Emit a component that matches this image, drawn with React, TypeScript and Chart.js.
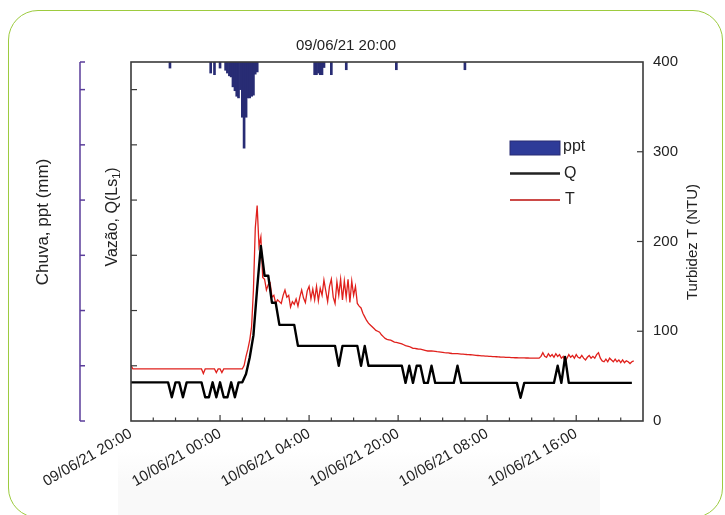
import React, { useEffect, useRef } from "react";
import { Chart, registerables } from "chart.js";

Chart.register(...registerables);

const FONT = '"Liberation Sans", Arial, Helvetica, sans-serif';
const TEXT = "#222222";

// Sampling steps (hours): Q every 10 min, T every 5 min
const Q_STEP_HOURS = 1 / 6;
const T_STEP_HOURS = 1 / 12;

// Vazão Q (arbitrary units of the unlabeled left axis)
const qValues = [
  7, 7, 7, 7, 7, 7, 7, 7, 7, 7,
  7, 4.3, 7, 7, 4.3, 7, 7, 7, 7, 7,
  4.3, 4.3, 7, 4.3, 7, 4.3, 4.3, 7, 4.3, 7,
  7, 8.5, 11.5, 15.5, 24, 31.7, 26.3, 26.3, 21.4, 21.4,
  17.4, 17.4, 17.4, 17.4, 17.4, 13.6, 13.6, 13.6, 13.6, 13.6,
  13.6, 13.6, 13.6, 13.6, 13.6, 13.6, 10, 13.6, 13.6, 13.6,
  13.6, 13.6, 10, 13.6, 10, 10, 10, 10, 10, 10,
  10, 10, 10, 10, 6.9, 10, 6.9, 10, 10, 6.9,
  6.9, 10, 6.9, 6.9, 6.9, 6.9, 6.9, 6.9, 10, 6.9,
  6.9, 6.9, 6.9, 6.9, 6.9, 6.9, 6.9, 6.9, 6.9, 6.9,
  6.9, 6.9, 6.9, 6.9, 6.9, 4.2, 6.9, 6.9, 6.9, 6.9,
  6.9, 6.9, 6.9, 6.9, 6.9, 10, 6.9, 11.6, 6.9, 6.9,
  6.9, 6.9, 6.9, 6.9, 6.9, 6.9, 6.9, 6.9, 6.9, 6.9,
  6.9, 6.9, 6.9, 6.9, 6.9, 6.9,
];

// Turbidez T (NTU)
const tValues = [
  62, 58, 58, 58, 58, 58, 58, 58, 58, 58,
  58, 58, 58, 58, 58, 58, 58, 58, 58, 58,
  58, 58, 58, 58, 58, 58, 58, 58, 58, 58,
  58, 58, 58, 58, 58, 58, 58, 58, 58, 53,
  58, 58, 58, 58, 58, 58, 54, 58, 58, 54,
  58, 58, 58, 58, 58, 58, 58, 58, 58, 58,
  58, 62, 72, 80, 90, 105, 146, 215, 240, 195,
  205, 160, 158, 146, 152, 154, 138, 140, 131, 135,
  133, 131, 140, 146, 138, 140, 127, 133, 130, 136,
  128, 138, 146, 137, 132, 145, 150, 136, 147, 135,
  150, 134, 148, 140, 157, 145, 133, 150, 158, 138,
  131, 155, 140, 158, 135, 156, 138, 158, 132, 156,
  140, 150, 131, 128, 126, 120, 116, 112, 109, 107,
  105, 103, 101, 100, 99, 96, 94, 92, 91, 90.5,
  90, 89, 88, 87.5, 87, 86.5, 86, 85, 84, 83.5,
  83, 82, 81, 81, 80.5, 80, 80, 79.5, 79, 78.5,
  78, 78, 78, 77.8, 77.5, 77.2, 77, 76.8, 76.5, 76.2,
  76, 75.8, 75.5, 75.2, 75, 75, 75, 74.8, 74.6, 74.5,
  74.3, 74.1, 74, 73.8, 73.6, 73.4, 73.2, 73, 72.8, 72.6,
  72.5, 72.3, 72.2, 72.1, 72, 71.8, 71.7, 71.6, 71.5, 71.3,
  71.2, 71.1, 71, 70.9, 70.8, 70.7, 70.6, 70.5, 70.5, 70.4,
  70.4, 70.3, 70.3, 70.2, 70.2, 70.1, 70.1, 70, 70, 70,
  70, 72, 76, 72, 71, 75, 72, 74, 71, 75,
  72, 74, 70, 72, 66, 70, 74, 71, 73, 70,
  74, 71, 70, 73, 70, 68, 71, 73, 70, 72,
  70, 74, 76, 70, 67, 66, 69, 66, 70, 68,
  66, 69, 66, 68, 65, 68, 65, 67, 66, 64,
  66, 67,
];

// Chuva ppt (mm): time of each reading (hours from start) and amount
const rainHours = [
  1.75, 3.58, 3.75, 4.0,
  4.25, 4.33, 4.42, 4.5, 4.58, 4.67, 4.75, 4.83, 4.92, 5.0, 5.08, 5.17, 5.25, 5.33, 5.42, 5.5, 5.58, 5.67,
  8.25, 8.33, 8.42, 8.5, 8.58, 8.67, 9.0, 9.67, 11.92, 15.0,
];
const rainMm = [
  0.11, 0.2, 0.23, 0.11,
  0.15, 0.2, 0.25, 0.27, 0.45, 0.52, 0.62, 0.65, 0.5, 1.0, 1.56, 1.0, 0.65, 0.65, 0.62, 0.6, 0.22, 0.18,
  0.23, 0.23, 0.2, 0.23, 0.23, 0.1, 0.23, 0.14, 0.14, 0.14,
];

// X axis ticks
const xTickHours = [0, 4, 8, 12, 16, 20];
const xTickLabels = [
  "09/06/21 20:00",
  "10/06/21 00:00",
  "10/06/21 04:00",
  "10/06/21 20:00",
  "10/06/21 08:00",
  "10/06/21 16:00",
];
const xMinorStepHours = 1;
const xMaxHours = 23;

// Y axes ticks
const tTicks = [0, 100, 200, 300, 400];
const qTicks = [0, 10, 20, 30, 40, 50, 60];
const rainTicks = [0, 0.5, 1.5, 2.5, 3.5, 4.5, 5.5, 6.5];

const topLabel = "09/06/21 20:00";

const COLORS = {
  rain: "#282c74",
  rainLegend: "#2e3b98",
  q: "#000000",
  t: "#e0201c",
  frame: "#3a3a3a",
  purple: "#5a3d9a",
};

const decorPlugin = {
  id: "decor",
  afterDraw(chart: any) {
    const ctx = chart.ctx;
    const ca = chart.chartArea;
    const x = chart.scales.x;
    const yT = chart.scales.yT;
    const yQ = chart.scales.yQ;
    const yR = chart.scales.yRain;
    ctx.save();

    // frame
    ctx.strokeStyle = COLORS.frame;
    ctx.lineWidth = 1.6;
    ctx.strokeRect(ca.left, ca.top, ca.right - ca.left, ca.bottom - ca.top);

    // x ticks (inward)
    ctx.lineWidth = 1.2;
    for (let h = xMinorStepHours; h < xMaxHours; h += xMinorStepHours) {
      const px = x.getPixelForValue(h);
      const len = xTickHours.includes(h) ? 6 : 3.5;
      ctx.beginPath();
      ctx.moveTo(px, ca.bottom);
      ctx.lineTo(px, ca.bottom - len);
      ctx.stroke();
    }
    // Q ticks (inward from left)
    qTicks.forEach((v) => {
      if (v === 0) return;
      const py = yQ.getPixelForValue(v);
      ctx.beginPath();
      ctx.moveTo(ca.left, py);
      ctx.lineTo(ca.left + 6, py);
      ctx.stroke();
    });
    // T ticks (inward from right)
    tTicks.forEach((v) => {
      if (v === 0 || v === 400) return;
      const py = yT.getPixelForValue(v);
      ctx.beginPath();
      ctx.moveTo(ca.right, py);
      ctx.lineTo(ca.right - 6, py);
      ctx.stroke();
    });

    // rain axis (purple)
    const ax = ca.left - 51;
    ctx.strokeStyle = COLORS.purple;
    ctx.lineWidth = 1.5;
    ctx.beginPath();
    ctx.moveTo(ax, yR.getPixelForValue(0));
    ctx.lineTo(ax, yR.getPixelForValue(6.5));
    ctx.stroke();
    rainTicks.forEach((v) => {
      const py = yR.getPixelForValue(v);
      ctx.beginPath();
      ctx.moveTo(ax, py);
      ctx.lineTo(ax + 5, py);
      ctx.stroke();
    });

    // texts
    ctx.fillStyle = TEXT;
    ctx.font = `15px ${FONT}`;
    ctx.textAlign = "center";
    ctx.textBaseline = "middle";
    ctx.fillText(topLabel, ca.left + 0.42 * (ca.right - ca.left), ca.top - 16);

    const vText = (t: string, cx: number, cy: number, size: number) => {
      ctx.save();
      ctx.translate(cx, cy);
      ctx.rotate(-Math.PI / 2);
      ctx.font = `${size}px ${FONT}`;
      ctx.textAlign = "center";
      ctx.textBaseline = "middle";
      ctx.fillText(t, 0, 0);
      ctx.restore();
    };
    vText("Chuva, ppt (mm)", ca.left - 88, ca.top + 160, 17);
    vText("Turbidez T (NTU)", ca.right + 50, ca.top + 180, 15);

    // Vazão label with subscript
    {
      ctx.save();
      ctx.translate(ca.left - 18, ca.top + 155);
      ctx.rotate(-Math.PI / 2);
      ctx.textBaseline = "middle";
      ctx.textAlign = "left";
      const a = "Vazão, Q(Ls";
      const b = "1";
      const c = ")";
      ctx.font = `16px ${FONT}`;
      const wa = ctx.measureText(a).width;
      const wc = ctx.measureText(c).width;
      ctx.font = `11px ${FONT}`;
      const wb = ctx.measureText(b).width;
      const total = wa + wb + wc;
      let sx = -total / 2;
      ctx.font = `16px ${FONT}`;
      ctx.fillText(a, sx, 0);
      sx += wa;
      ctx.font = `11px ${FONT}`;
      ctx.fillText(b, sx, 4);
      sx += wb;
      ctx.font = `16px ${FONT}`;
      ctx.fillText(c, sx, 0);
      ctx.restore();
    }

    // legend
    const lx = ca.left + 379;
    const rows = [ca.top + 86, ca.top + 111.5, ca.top + 138];
    const ds = chart.data.datasets;
    ctx.fillStyle = COLORS.rainLegend;
    ctx.fillRect(lx, rows[0] - 7, 50, 14);
    ctx.strokeStyle = COLORS.rain;
    ctx.lineWidth = 1;
    ctx.strokeRect(lx, rows[0] - 7, 50, 14);
    ctx.strokeStyle = "#222";
    ctx.lineWidth = 2.5;
    ctx.beginPath();
    ctx.moveTo(lx, rows[1]);
    ctx.lineTo(lx + 50, rows[1]);
    ctx.stroke();
    ctx.strokeStyle = "#cc4a47";
    ctx.lineWidth = 2;
    ctx.beginPath();
    ctx.moveTo(lx, rows[2]);
    ctx.lineTo(lx + 50, rows[2]);
    ctx.stroke();
    ctx.fillStyle = TEXT;
    ctx.font = `16px ${FONT}`;
    ctx.textAlign = "left";
    ctx.textBaseline = "middle";
    ctx.fillText(ds[0].label, lx + 53, rows[0] - 1);
    ctx.fillText(ds[1].label, lx + 54, rows[1]);
    ctx.fillText(ds[2].label, lx + 55, rows[2]);

    ctx.restore();
  },
};

export default function App() {
  const ref = useRef<HTMLCanvasElement>(null);

  useEffect(() => {
    const chart = new Chart(ref.current as HTMLCanvasElement, {
      type: "line",
      data: {
        datasets: [
          {
            type: "bar",
            label: "ppt",
            data: rainHours.map((h, i) => ({ x: h, y: rainMm[i] })),
            backgroundColor: COLORS.rain,
            borderWidth: 0,
            barThickness: 2,
            yAxisID: "yRain",
            order: 3,
          } as any,
          {
            type: "line",
            label: "Q",
            data: qValues.map((v, i) => ({ x: i * Q_STEP_HOURS, y: v })),
            borderColor: COLORS.q,
            borderWidth: 2.4,
            pointRadius: 0,
            tension: 0,
            borderJoinStyle: "round",
            yAxisID: "yQ",
            order: 1,
          },
          {
            type: "line",
            label: "T",
            data: tValues.map((v, i) => ({ x: i * T_STEP_HOURS, y: v })),
            borderColor: COLORS.t,
            borderWidth: 1.3,
            pointRadius: 0,
            tension: 0,
            yAxisID: "yT",
            order: 2,
          },
        ],
      },
      options: {
        responsive: false,
        animation: false,
        events: [],
        layout: { padding: { left: 131, top: 62, right: 0, bottom: 0 } },
        plugins: {
          legend: { display: false },
          title: { display: false },
          tooltip: { enabled: false },
        },
        scales: {
          x: {
            type: "linear",
            position: "bottom",
            min: 0,
            max: xMaxHours,
            offset: false,
            grid: { display: false, drawTicks: false },
            border: { display: false },
            ticks: {
              autoSkip: false,
              maxRotation: 30,
              minRotation: 30,
              padding: 4,
              color: TEXT,
              font: { family: FONT, size: 15 },
              callback: (v: any) => {
                const k = xTickHours.indexOf(Number(v));
                return k >= 0 ? xTickLabels[k] : "";
              },
            },
            afterBuildTicks: (s: any) => {
              s.ticks = xTickHours.map((v) => ({ value: v }));
            },
            afterFit: (s: any) => {
              s.height = 94;
              s.paddingLeft = 0;
              s.paddingRight = 0;
            },
          },
          yT: {
            position: "right",
            min: 0,
            max: 400,
            grid: { display: false, drawTicks: false },
            border: { display: false },
            ticks: {
              padding: 10,
              color: TEXT,
              font: { family: FONT, size: 15 },
            },
            afterBuildTicks: (s: any) => {
              s.ticks = tTicks.map((v) => ({ value: v }));
            },
            afterFit: (s: any) => {
              s.width = 82;
            },
          },
          yQ: { display: false, position: "left", min: 0, max: 65 },
          yRain: { display: false, position: "left", reverse: true, min: 0, max: 6.5 },
        },
      } as any,
      plugins: [decorPlugin],
    } as any);
    return () => chart.destroy();
  }, []);

  return (
    <div
      style={{
        position: "absolute",
        left: 0,
        top: 0,
        width: 725,
        height: 515,
        overflow: "hidden",
        background: "#ffffff",
      }}
    >
      <div
        style={{
          position: "absolute",
          left: 118,
          top: 450,
          width: 482,
          height: 65,
          background: "linear-gradient(#ffffff, #f9f9f9 50%)",
        }}
      />
      <div
        style={{
          position: "absolute",
          left: 8,
          top: 10,
          width: 715,
          height: 508,
          border: "1.5px solid #9dcb3f",
          borderRadius: 30,
          boxSizing: "border-box",
        }}
      />
      <canvas
        ref={ref}
        width={725}
        height={515}
        style={{ position: "absolute", left: 0, top: 0, width: 725, height: 515 }}
      />
    </div>
  );
}
